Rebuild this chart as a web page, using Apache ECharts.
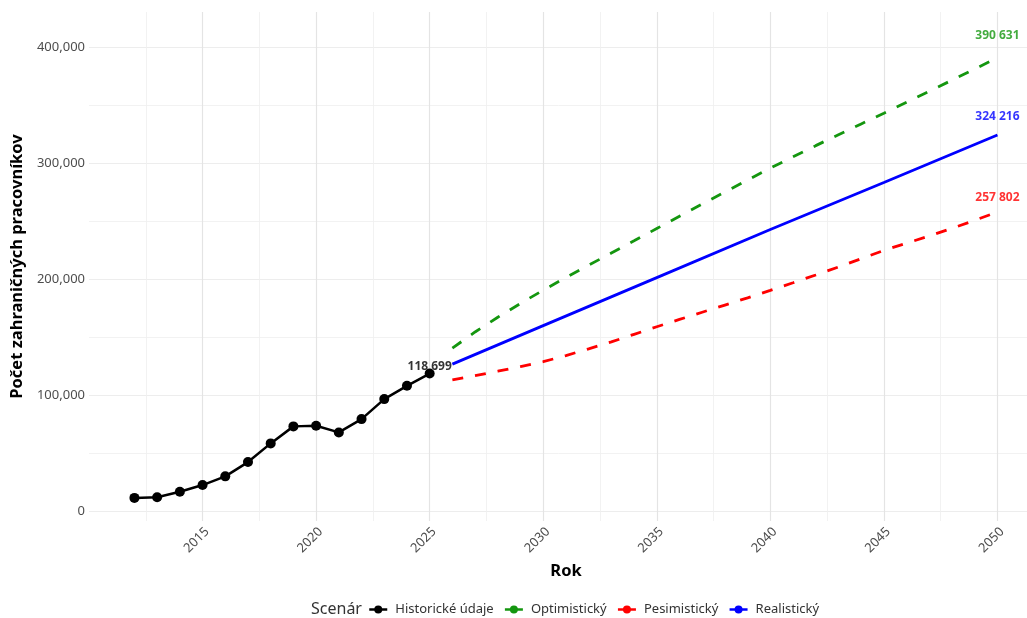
<!DOCTYPE html>
<html><head><meta charset="utf-8">
<script src="https://cdn.jsdelivr.net/npm/echarts@6/dist/echarts.min.js"></script>
<style>html,body{margin:0;padding:0;background:#fff}#c{width:1027px;height:618px}</style>
</head><body><div id="c"></div>
<script>
// ---- data ----
const histYears = [2012,2013,2014,2015,2016,2017,2018,2019,2020,2021,2022,2023,2024,2025];
const histValues = [11600,12200,16900,22650,30150,42450,58550,73200,73700,68000,79450,96700,108150,118699];
const projYears = [2026,2027,2028,2029,2030,2031,2032,2033,2034,2035,2036,2037,2038,2039,2040,2041,2042,2043,2044,2045,2046,2047,2048,2049,2050];
const optValues = [140600,154500,167200,179100,190500,201400,212000,222500,233000,243600,254200,264700,275100,285400,295600,305400,315000,324400,333700,342900,352400,361900,371400,381000,390631];
const pesValues = [113300,116900,120700,124700,128900,134200,140000,146000,152500,159000,165300,171500,177700,183900,190300,196900,203600,210500,217600,224800,231000,237200,243800,250700,257802];
const realYears = [2026,2030,2035,2040,2045,2050];
const realValues = [126800,160000,201300,242700,283300,324216];
const seriesNames = ['Historické údaje','Optimistický','Pesimistický','Realistický'];
const seriesColors = ['#000000','#14960f','#ff0000','#0000ff'];
const labelPoints = [[2025,118699,0],[2050,390631,1],[2050,324216,3],[2050,257802,2]];
const yTitle = 'Počet zahraničných pracovníkov';
const xTitle = 'Rok';
const legendTitle = 'Scenár';

const FONT = '"Noto Sans", "Open Sans", sans-serif';
const zip = (xs, ys) => xs.map((x, i) => [x, ys[i]]);
const fmtComma = v => String(Math.round(v)).replace(/\B(?=(\d{3})+(?!\d))/g, ',');
const fmtSpace = v => String(Math.round(v)).replace(/\B(?=(\d{3})+(?!\d))/g, ' ');

const chart = echarts.init(document.getElementById('c'), null, {renderer: 'canvas'});
const yMin = -8300, yMax = 430100;
const axisGrey = '#4d4d4d';

chart.setOption({
  animation: false,
  backgroundColor: '#ffffff',
  textStyle: {fontFamily: FONT},
  grid: {left: 89, top: 12, width: 1022, height: 509, outerBoundsMode: 'none', containLabel: false},
  xAxis: {
    type: 'value', min: 2010, max: 2055, interval: 5,
    axisLine: {show: false}, axisTick: {show: false},
    axisLabel: {rotate: 45, fontSize: 13, color: axisGrey, margin: 4, fontFamily: FONT,
      verticalAlign: 'top',
      showMinLabel: false, formatter: v => (v <= 2010 || v > 2050) ? '' : String(v)},
    splitLine: {show: true, showMinLine: false, lineStyle: {color: '#e4e4e4', width: 1.2}},
    minorTick: {show: false, splitNumber: 2},
    minorSplitLine: {show: true, lineStyle: {color: '#efefef', width: 0.8}}
  },
  yAxis: [{
    type: 'value', min: yMin, max: yMax, splitNumber: 5,
    axisLine: {show: false}, axisTick: {show: false},
    axisLabel: {fontSize: 13, color: axisGrey, margin: 4, fontFamily: FONT,
      showMinLabel: false, showMaxLabel: false,
      formatter: v => (v < 0 || v > 400000) ? '' : fmtComma(v)},
    splitLine: {show: true, showMinLine: false, showMaxLine: false, lineStyle: {color: '#e4e4e4', width: 1.2}},
    name: yTitle, nameLocation: 'middle', nameGap: 56,
    nameTextStyle: {fontSize: 16.5, fontWeight: 'bold', color: '#000', fontFamily: FONT}
  }, {
    type: 'value', min: yMin, max: yMax, splitNumber: 9, position: 'left',
    axisLine: {show: false}, axisTick: {show: false}, axisLabel: {show: false},
    splitLine: {show: true, showMinLine: false, showMaxLine: false, lineStyle: {color: '#efefef', width: 0.8}},
    z: 0
  }],
  legend: {
    data: seriesNames, left: 368, top: 603, orient: 'horizontal', padding: 0,
    itemWidth: 18, itemHeight: 10, itemGap: 10,
    textStyle: {fontSize: 13, color: '#333', fontFamily: FONT, padding: [0, 0, 0, 3]},
    lineStyle: {type: 'solid', width: 2.5}
  },
  graphic: [
    {type: 'text', x: 311, y: 609, style: {text: legendTitle, font: '16px ' + FONT, fill: '#333', textVerticalAlign: 'middle'}},
    {type: 'text', x: 566, y: 571, style: {text: xTitle, font: 'bold 16.5px ' + FONT, fill: '#000', textAlign: 'center', textVerticalAlign: 'middle'}}
  ],
  series: [
    {name: seriesNames[0], type: 'line', data: zip(histYears, histValues), symbol: 'circle', symbolSize: 10,
     showSymbol: true, lineStyle: {color: seriesColors[0], width: 2.5}, itemStyle: {color: seriesColors[0]}, z: 4},
    {name: seriesNames[1], type: 'line', data: zip(projYears, optValues), symbol: 'circle', showSymbol: false,
     lineStyle: {color: seriesColors[1], width: 2.8, type: [11, 12]}, itemStyle: {color: seriesColors[1]}, z: 3},
    {name: seriesNames[2], type: 'line', data: zip(projYears, pesValues), symbol: 'circle', showSymbol: false,
     lineStyle: {color: seriesColors[2], width: 2.8, type: [11, 12]}, itemStyle: {color: seriesColors[2]}, z: 3},
    {name: seriesNames[3], type: 'line', data: zip(realYears, realValues), symbol: 'circle', showSymbol: false,
     lineStyle: {color: seriesColors[3], width: 2.8}, itemStyle: {color: seriesColors[3]}, z: 3},
    {name: 'labels', type: 'scatter', symbolSize: 0.1, itemStyle: {color: 'rgba(0,0,0,0)'}, z: 5,
     data: labelPoints.map(p => ({value: [p[0], p[1] * 1.05, p[1]],
       label: {show: true, position: 'inside', formatter: fmtSpace(p[1]),
         color: seriesColors[p[2]], fontSize: 12, fontWeight: 'bold', fontFamily: FONT}})),
     silent: true, tooltip: {show: false}}
  ]
});
</script></body></html>
